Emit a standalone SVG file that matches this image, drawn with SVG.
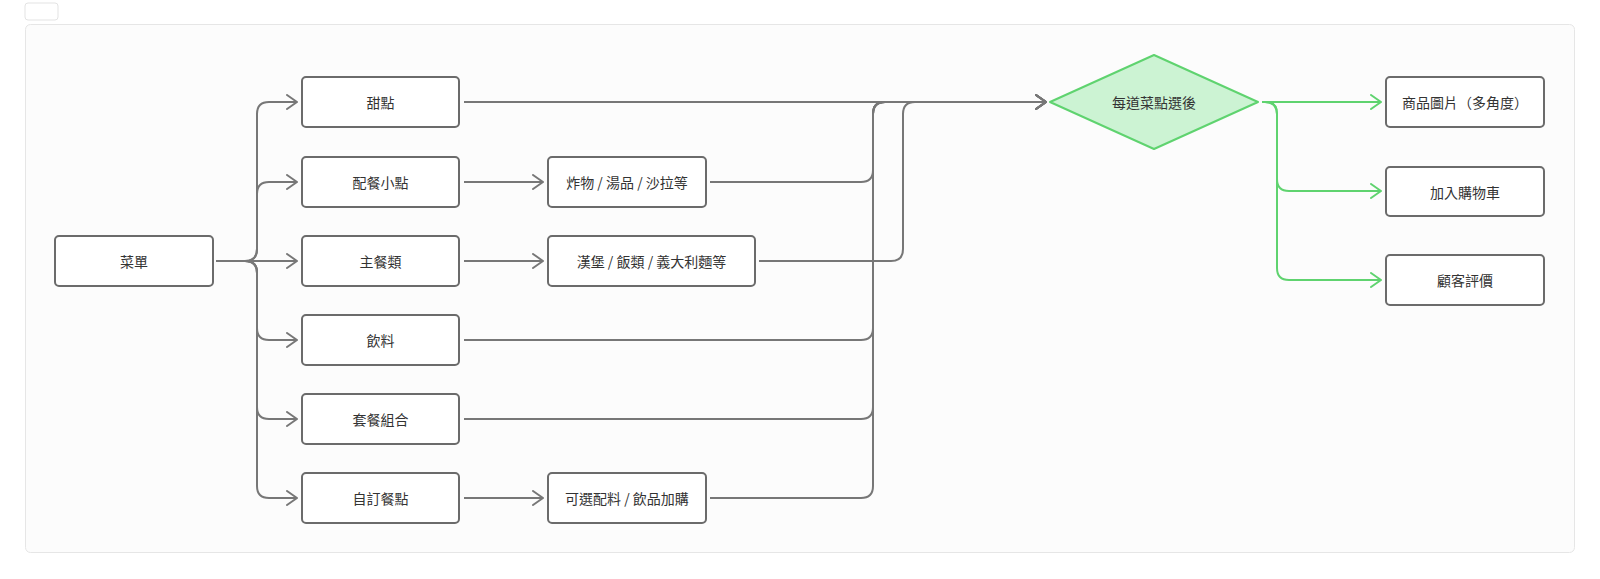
<svg xmlns="http://www.w3.org/2000/svg" width="1600" height="579" viewBox="0 0 1600 579">
<style>
.node rect{fill:#ffffff;stroke:#6b6b6b;stroke-width:2}
.node text{font-family:"Noto Sans CJK TC","Noto Sans",sans-serif;font-size:14px;fill:#333;text-anchor:middle;dominant-baseline:central}
.c{fill:none;stroke:#777;stroke-width:2}
.g{fill:none;stroke:#5fd36f;stroke-width:2}
</style>
<defs>
<marker id="ah" viewBox="0 0 12 16" refX="11" refY="8" markerWidth="12" markerHeight="16" markerUnits="userSpaceOnUse" orient="auto"><path d="M1,1 L11,8 L1,15" fill="none" stroke="#777" stroke-width="2" stroke-linecap="round" stroke-linejoin="round"/></marker>
<marker id="ahg" viewBox="0 0 12 16" refX="11" refY="8" markerWidth="12" markerHeight="16" markerUnits="userSpaceOnUse" orient="auto"><path d="M1,1 L11,8 L1,15" fill="none" stroke="#5fd36f" stroke-width="2" stroke-linecap="round" stroke-linejoin="round"/></marker>
</defs>
<rect width="1600" height="579" fill="#ffffff"/>
<rect x="25" y="3" width="33" height="17" rx="3" fill="#fff" stroke="#e3e3e3" stroke-width="1"/>
<rect x="25.5" y="24.5" width="1549" height="528" rx="5" fill="#fcfcfc" stroke="#e6e6e6" stroke-width="1"/>
<g id="connectors">
<path class="c" d="M216,261 H245 Q257,261 257,249 V114 Q257,102 269,102 H297" marker-end="url(#ah)"/>
<path class="c" d="M216,261 H245 Q257,261 257,249 V194 Q257,182 269,182 H297" marker-end="url(#ah)"/>
<path class="c" d="M216,261 H297" marker-end="url(#ah)"/>
<path class="c" d="M216,261 H245 Q257,261 257,273 V328 Q257,340 269,340 H297" marker-end="url(#ah)"/>
<path class="c" d="M216,261 H245 Q257,261 257,273 V407 Q257,419 269,419 H297" marker-end="url(#ah)"/>
<path class="c" d="M216,261 H245 Q257,261 257,273 V486 Q257,498 269,498 H297" marker-end="url(#ah)"/>
<path class="c" d="M464,182 H543" marker-end="url(#ah)"/>
<path class="c" d="M464,261 H543" marker-end="url(#ah)"/>
<path class="c" d="M464,498 H543" marker-end="url(#ah)"/>
<path class="c" d="M464,102 H1046" marker-end="url(#ah)"/>
<path class="c" d="M710,182 H861 Q873,182 873,170 V114 Q873,102 885,102 H1046" marker-end="url(#ah)"/>
<path class="c" d="M759,261 H891 Q903,261 903,249 V114 Q903,102 915,102 H1046" marker-end="url(#ah)"/>
<path class="c" d="M464,340 H861 Q873,340 873,328 V114 Q873,102 885,102 H1046" marker-end="url(#ah)"/>
<path class="c" d="M464,419 H861 Q873,419 873,407 V114 Q873,102 885,102 H1046" marker-end="url(#ah)"/>
<path class="c" d="M710,498 H861 Q873,498 873,486 V114 Q873,102 885,102 H1046" marker-end="url(#ah)"/>
<path class="g" d="M1262,102 H1381" marker-end="url(#ahg)"/>
<path class="g" d="M1262,102 H1265 Q1277,102 1277,114 V179 Q1277,191 1289,191 H1381" marker-end="url(#ahg)"/>
<path class="g" d="M1262,102 H1265 Q1277,102 1277,114 V268 Q1277,280 1289,280 H1381" marker-end="url(#ahg)"/>
</g>
<g id="menu" class="node"><rect x="55" y="236" width="158" height="50" rx="4"/><text x="134" y="261">菜單</text></g>
<g id="dessert" class="node"><rect x="302" y="77" width="157" height="50" rx="4"/><text x="380.5" y="102">甜點</text></g>
<g id="side" class="node"><rect x="302" y="157" width="157" height="50" rx="4"/><text x="380.5" y="182">配餐小點</text></g>
<g id="main" class="node"><rect x="302" y="236" width="157" height="50" rx="4"/><text x="380.5" y="261">主餐類</text></g>
<g id="drink" class="node"><rect x="302" y="315" width="157" height="50" rx="4"/><text x="380.5" y="340">飲料</text></g>
<g id="combo" class="node"><rect x="302" y="394" width="157" height="50" rx="4"/><text x="380.5" y="419">套餐組合</text></g>
<g id="custom" class="node"><rect x="302" y="473" width="157" height="50" rx="4"/><text x="380.5" y="498">自訂餐點</text></g>
<g id="fried" class="node"><rect x="548" y="157" width="158" height="50" rx="4"/><text x="627" y="182">炸物 / 湯品 / 沙拉等</text></g>
<g id="burger" class="node"><rect x="548" y="236" width="207" height="50" rx="4"/><text x="651.5" y="261">漢堡 / 飯類 / 義大利麵等</text></g>
<g id="options" class="node"><rect x="548" y="473" width="158" height="50" rx="4"/><text x="627" y="498">可選配料 / 飲品加購</text></g>
<g id="decision" class="node"><path d="M1050,102 L1154,55 L1258,102 L1154,149 Z" fill="#ccf3d3" stroke="#5fd36f" stroke-width="2" stroke-linejoin="round"/><text x="1154" y="102">每道菜點選後</text></g>
<g id="photos" class="node"><rect x="1386" y="77" width="158" height="50" rx="4"/><text x="1465" y="102">商品圖片（多角度）</text></g>
<g id="cart" class="node"><rect x="1386" y="167" width="158" height="49" rx="4"/><text x="1465" y="191.5">加入購物車</text></g>
<g id="reviews" class="node"><rect x="1386" y="255" width="158" height="50" rx="4"/><text x="1465" y="280">顧客評價</text></g>
</svg>
